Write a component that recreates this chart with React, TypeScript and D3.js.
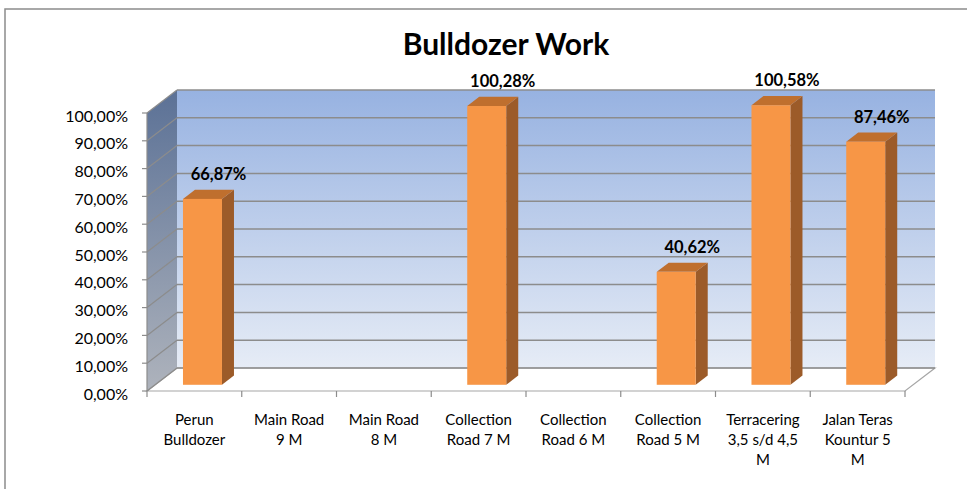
import React from 'react';
import * as d3 from 'd3';

const categories = [
    'Perun\nBulldozer',
    'Main Road\n9 M',
    'Main Road\n8 M',
    'Collection\nRoad 7 M',
    'Collection\nRoad 6 M',
    'Collection\nRoad 5 M',
    'Terracering\n3,5 s/d 4,5\nM',
    'Jalan Teras\nKountur 5\nM',
];
const values = [66.87, 0, 0, 100.28, 0, 40.62, 100.58, 87.46];
const yTicks = [0, 10, 20, 30, 40, 50, 60, 70, 80, 90, 100];

const FONT = 'Lato, "Open Sans", sans-serif';

const App = () => {
    const width = 967;
    const height = 489;

    // front plane
    const left = 147;
    const right = 905;
    const bottom = 391;
    const top = 113;
    // depth offset of the 3d box
    const dx = 30;
    const dy = -23;

    const x = d3.scaleBand<string>().domain(categories).range([left, right]);
    const y = d3.scaleLinear().domain([0, 100]).range([bottom, top]);

    const fmt = (v: number) => v.toFixed(2).replace('.', ',') + '%';

    // bar sits between these depth fractions
    const f0 = 0.27;
    const f1 = 0.67;
    const barW = 39;

    const backL = left + dx;
    const backR = right + dx;
    const backTop = top + dy;
    const backBottom = bottom + dy;

    return (
        <svg width={width} height={height} style={{position: 'absolute', left: 0, top: 0}}>
            <defs>
                <linearGradient id="backGrad" x1="0" y1="0" x2="0" y2="1">
                    <stop offset="0%" stopColor="#97b2e1" />
                    <stop offset="100%" stopColor="#e6ecf6" />
                </linearGradient>
                <linearGradient id="sideGrad" x1="0" y1="0" x2="0" y2="1">
                    <stop offset="0%" stopColor="#5b7196" />
                    <stop offset="100%" stopColor="#aeb3bc" />
                </linearGradient>
            </defs>
            <rect x={0} y={0} width={width} height={height} fill="#fff" />
            <rect x={5} y={9} width={1000} height={500} fill="none" stroke="#8c8c8c" strokeWidth={1.5} />

            <text x={506} y={55} textAnchor="middle" fontFamily={FONT} fontWeight="bold" fontSize={30} fill="#000">
                Bulldozer Work
            </text>

            {/* back wall */}
            <rect x={backL} y={backTop} width={backR - backL} height={backBottom - backTop} fill="url(#backGrad)" />
            {/* left wall */}
            <polygon
                points={`${left},${top} ${backL},${backTop} ${backL},${backBottom} ${left},${bottom}`}
                fill="url(#sideGrad)"
            />
            {/* floor */}
            <polygon
                points={`${left},${bottom} ${right},${bottom} ${backR},${backBottom} ${backL},${backBottom}`}
                fill="#fff"
                stroke="#a6a6a6"
                strokeWidth={1.2}
            />

            {/* gridlines */}
            {yTicks.map((t) => (
                <g key={t}>
                    <line x1={backL} x2={backR} y1={y(t) + dy} y2={y(t) + dy} stroke="#8c8c8c" strokeWidth={1.5} />
                    <line x1={left} x2={backL} y1={y(t)} y2={y(t) + dy} stroke="#8c8c8c" strokeWidth={1.2} />
                </g>
            ))}

            {/* y axis */}
            <line x1={left} x2={left} y1={top} y2={bottom} stroke="#8c8c8c" strokeWidth={1.2} />
            {yTicks.map((t) => (
                <g key={'yt' + t}>
                    <line x1={left - 5} x2={left} y1={y(t)} y2={y(t)} stroke="#8c8c8c" strokeWidth={1.2} />
                    <text
                        x={128}
                        y={y(t) + 3}
                        dy="0.35em"
                        textAnchor="end"
                        fontFamily={FONT}
                        fontSize={16}
                        fill="#000"
                    >
                        {fmt(t)}
                    </text>
                </g>
            ))}

            {/* x axis ticks */}
            {[...categories.map((c) => x(c) as number), right].map((px, i) => (
                <line key={'xt' + i} x1={px} x2={px} y1={bottom} y2={bottom + 6} stroke="#8c8c8c" strokeWidth={1.2} />
            ))}

            {/* bars */}
            {categories.map((c, i) => {
                const v = values[i];
                if (!v) return null;
                const cx = (x(c) as number) + x.bandwidth() / 2 + dx * f0;
                const x0 = cx - barW / 2;
                const x1 = cx + barW / 2;
                const yb = y(0) + dy * f0;
                const yt = y(v) + dy * f0;
                const ddx = dx * (f1 - f0);
                const ddy = dy * (f1 - f0);
                return (
                    <g key={c}>
                        <polygon
                            points={`${x1},${yt} ${x1 + ddx},${yt + ddy} ${x1 + ddx},${yb + ddy} ${x1},${yb}`}
                            fill="#9c5b29"
                        />
                        <polygon
                            points={`${x0},${yt} ${x1},${yt} ${x1 + ddx},${yt + ddy} ${x0 + ddx},${yt + ddy}`}
                            fill="#bf6f2e"
                        />
                        <rect x={x0} y={yt} width={barW} height={yb - yt} fill="#f79646" />
                        <text
                            x={cx + 16}
                            y={yt - 19}
                            textAnchor="middle"
                            fontFamily={FONT}
                            fontWeight="bold"
                            fontSize={16.5}
                            fill="#000"
                        >
                            {fmt(v)}
                        </text>
                    </g>
                );
            })}

            {/* category labels */}
            {categories.map((c) => {
                const lines = c.split('\n');
                const cx = (x(c) as number) + x.bandwidth() / 2;
                return (
                    <text key={'cl' + c} x={cx} textAnchor="middle" fontFamily={FONT} fontSize={15} fill="#000">
                        {lines.map((l, j) => (
                            <tspan key={j} x={cx} y={425 + j * 20}>
                                {l}
                            </tspan>
                        ))}
                    </text>
                );
            })}
        </svg>
    );
};

export default App;
